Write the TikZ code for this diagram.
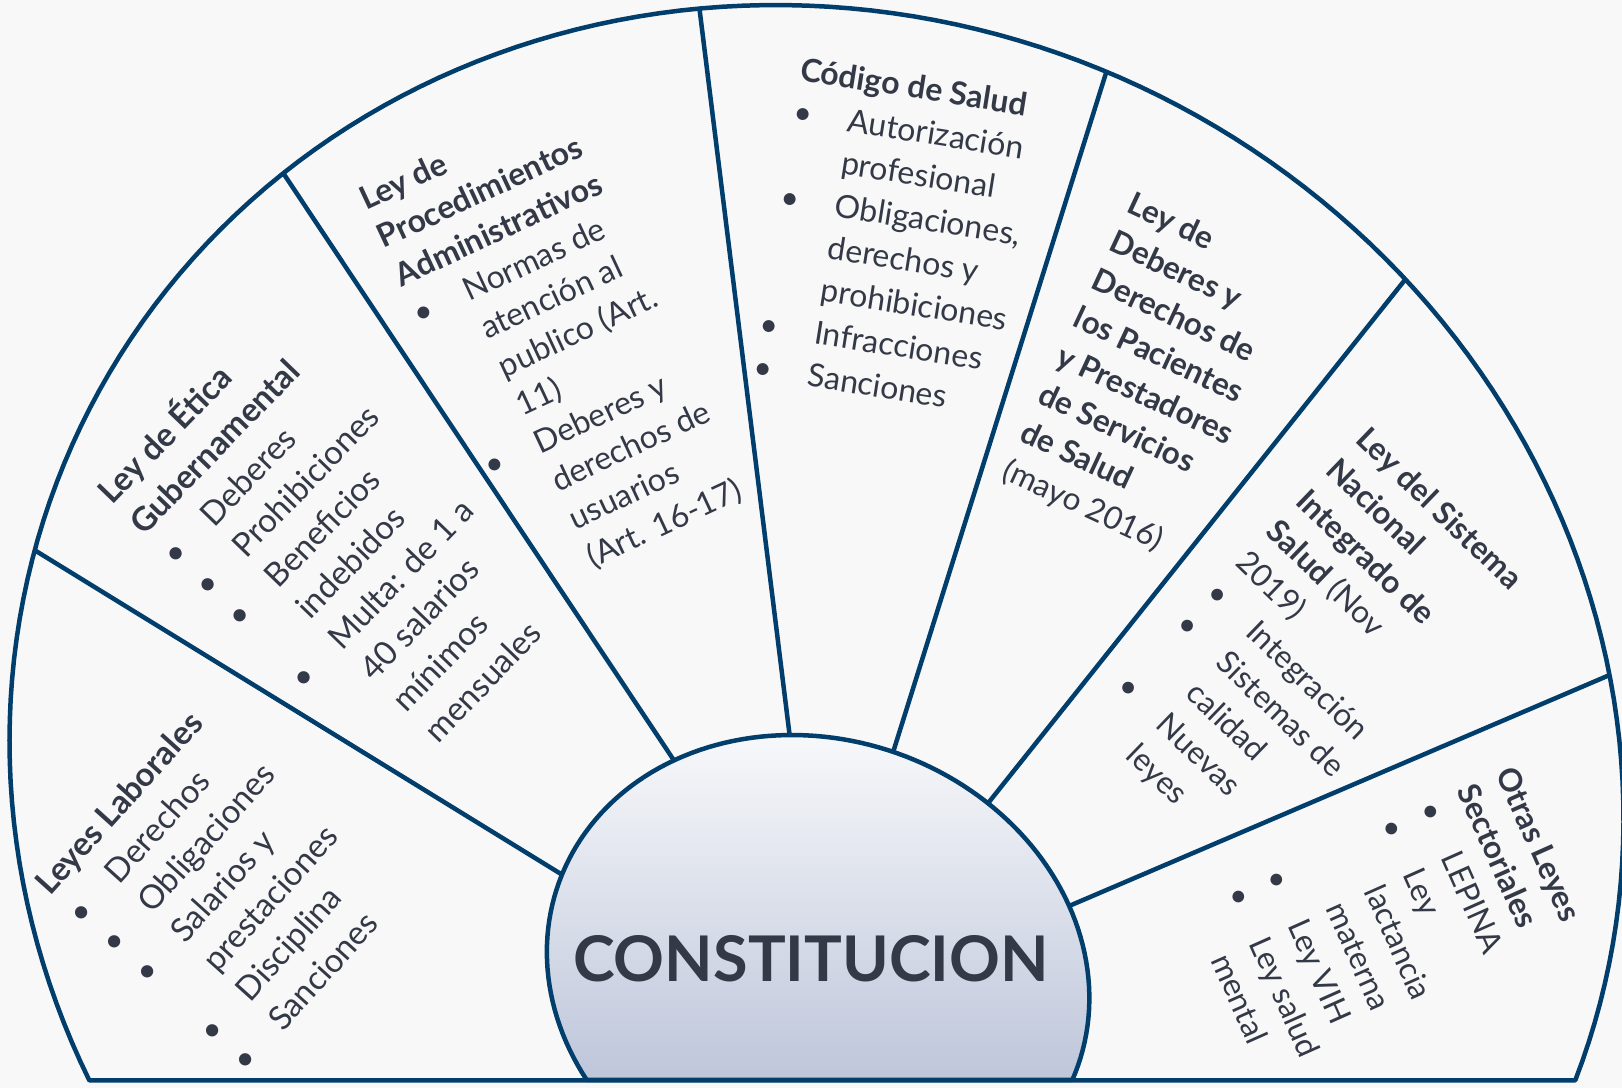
\documentclass[tikz,border=0pt]{standalone}
\usepackage{fontspec}
\setmainfont{Lato}
\definecolor{frame}{RGB}{1,62,108}
\definecolor{ink}{RGB}{51,57,71}
\definecolor{paper}{RGB}{248,248,248}
\definecolor{discTop}{RGB}{247,248,250}
\definecolor{discBot}{RGB}{190,198,218}
\newlength{\itemind}\setlength{\itemind}{55pt}
\newcommand{\itembul}{\makebox[\itemind][l]{\textbullet}}
\newcommand{\itemcont}{\hspace*{\itemind}}
\tikzset{
  sector/.style={inner sep=0pt, anchor=base west, text=ink,
    font=\fontsize{32}{43}\selectfont},
  divider/.style={draw=frame, line width=4.5pt, shorten <=-14pt, shorten >=-14pt},
}
\begin{document}
\begin{tikzpicture}[x=1pt, y=-1pt, line join=round]
    \useasboundingbox[fill=paper] (0,0) rectangle (1622,1088);
    %% outer fan
    \fill[paper] plot[domain=157.2:382.8, samples=150, variable=\t]
        ({816.5+806*cos(\t)+40.7*sin(\t)}, {780+775*sin(\t)}) -- cycle;
    %% dividers
    \coordinate (in1) at (563.3,875.4);  \coordinate (out1) at (36,551);
    \coordinate (in2) at (674.3,760.9);  \coordinate (out2) at (284.5,175);
    \coordinate (in3) at (789.5,734.1);  \coordinate (out3) at (700,13);
    \coordinate (in4) at (893.6,750.5);  \coordinate (out4) at (1106,73);
    \coordinate (in5) at (989.4,801.5);  \coordinate (out5) at (1408,276);
    \coordinate (in6) at (1071.6,904.9); \coordinate (out6) at (1612,674);
    \begin{scope}
        \clip plot[domain=157.2:382.8, samples=150, variable=\t]
            ({816.5+806*cos(\t)+40.7*sin(\t)}, {780+775*sin(\t)}) -- cycle;
        \foreach \i in {1,...,6}
            \draw[divider] (in\i) -- (out\i);
    \end{scope}
    %% outer border
    \draw[frame, line width=4.5pt] plot[domain=157.2:382.8, samples=150, variable=\t]
        ({816.5+806*cos(\t)+40.7*sin(\t)}, {780+775*sin(\t)}) -- cycle;
    %% centre disc
    \draw[frame, line width=4.5pt, top color=discTop, bottom color=discBot]
        plot[domain=154.1:385.9, samples=120, variable=\t]
        ({818.1+270*cos(\t)+26.1*sin(\t)}, {975+240*sin(\t)}) -- cycle;
    \node[text=ink, font=\fontsize{63}{75}\selectfont\bfseries, inner sep=0pt, anchor=base]
        (const) at (811,981) {CONSTITUCION};
    %% sector texts
    \node[sector, rotate=48, font=\fontsize{33}{44}\selectfont] (laborales) at (50,897) {\begin{tabular}[t]{@{}l@{}}
        \textbf{Leyes Laborales}\\
        \itembul Derechos\\
        \itembul Obligaciones\\
        \itembul Salarios y\\
        \itemcont prestaciones\\
        \itembul Disciplina\\
        \itembul Sanciones
    \end{tabular}};
    \node[sector, rotate=46, font=\fontsize{33}{44.5}\selectfont] (etica) at (112,506) {\begin{tabular}[t]{@{}l@{}}
        \textbf{Ley de Ética}\\
        \textbf{Gubernamental}\\
        \itembul Deberes\\
        \itembul Prohibiciones\\
        \itembul Beneficios\\
        \itemcont indebidos\\
        \itembul Multa: de 1 a\\
        \itemcont 40 salarios\\
        \itemcont mínimos\\
        \itemcont mensuales
    \end{tabular}};
    \node[sector, rotate=25, font=\fontsize{32}{42}\selectfont] (procedimientos) at (366,211) {\begin{tabular}[t]{@{}l@{}}
        \textbf{Ley de}\\
        \textbf{Procedimientos}\\
        \textbf{Administrativos}\\
        \itembul Normas de\\
        \itemcont atención al\\
        \itemcont publico (Art.\\
        \itemcont 11)\\
        \itembul Deberes y\\
        \itemcont derechos de\\
        \itemcont usuarios\\
        \itemcont (Art. 16-17)
    \end{tabular}};
    \node[sector, rotate=-9] (codigo) at (799,80) {\begin{tabular}[t]{@{}l@{}}
        \textbf{Código de Salud}\\
        \itembul Autorización\\
        \itemcont profesional\\
        \itembul Obligaciones,\\
        \itemcont derechos y\\
        \itemcont prohibiciones\\
        \itembul Infracciones\\
        \itembul Sanciones
    \end{tabular}};
    \node[sector, rotate=-25, font=\fontsize{31.5}{42}\selectfont] (pacientes) at (1125,211.7) {\begin{tabular}[t]{@{}l@{}}
        \textbf{Ley de}\\
        \textbf{Deberes y}\\
        \textbf{Derechos de}\\
        \textbf{los Pacientes}\\
        \textbf{y Prestadores}\\
        \textbf{de Servicios}\\
        \textbf{de Salud}\\
        (mayo 2016)
    \end{tabular}};
    \node[sector, rotate=-44, font=\fontsize{31.5}{43}\selectfont] (sistema) at (1354,441) {\begin{tabular}[t]{@{}l@{}}
        \textbf{Ley del Sistema}\\
        \textbf{Nacional}\\
        \textbf{Integrado de}\\
        \textbf{Salud} (Nov\\
        2019)\\
        \itembul Integración\\
        \itembul Sistemas de\\
        \itemcont calidad\\
        \itembul Nuevas\\
        \itemcont leyes
    \end{tabular}};
    \node[sector, rotate=-66, font=\fontsize{31.5}{42}\selectfont] (sectoriales) at (1495,773) {\begin{tabular}[t]{@{}l@{}}
        \textbf{Otras Leyes}\\
        \textbf{Sectoriales}\\
        \itembul LEPINA\\
        \itembul Ley\\
        \itemcont lactancia\\
        \itemcont materna\\
        \itembul Ley VIH\\
        \itembul Ley salud\\
        \itemcont mental
    \end{tabular}};
\end{tikzpicture}
\end{document}
